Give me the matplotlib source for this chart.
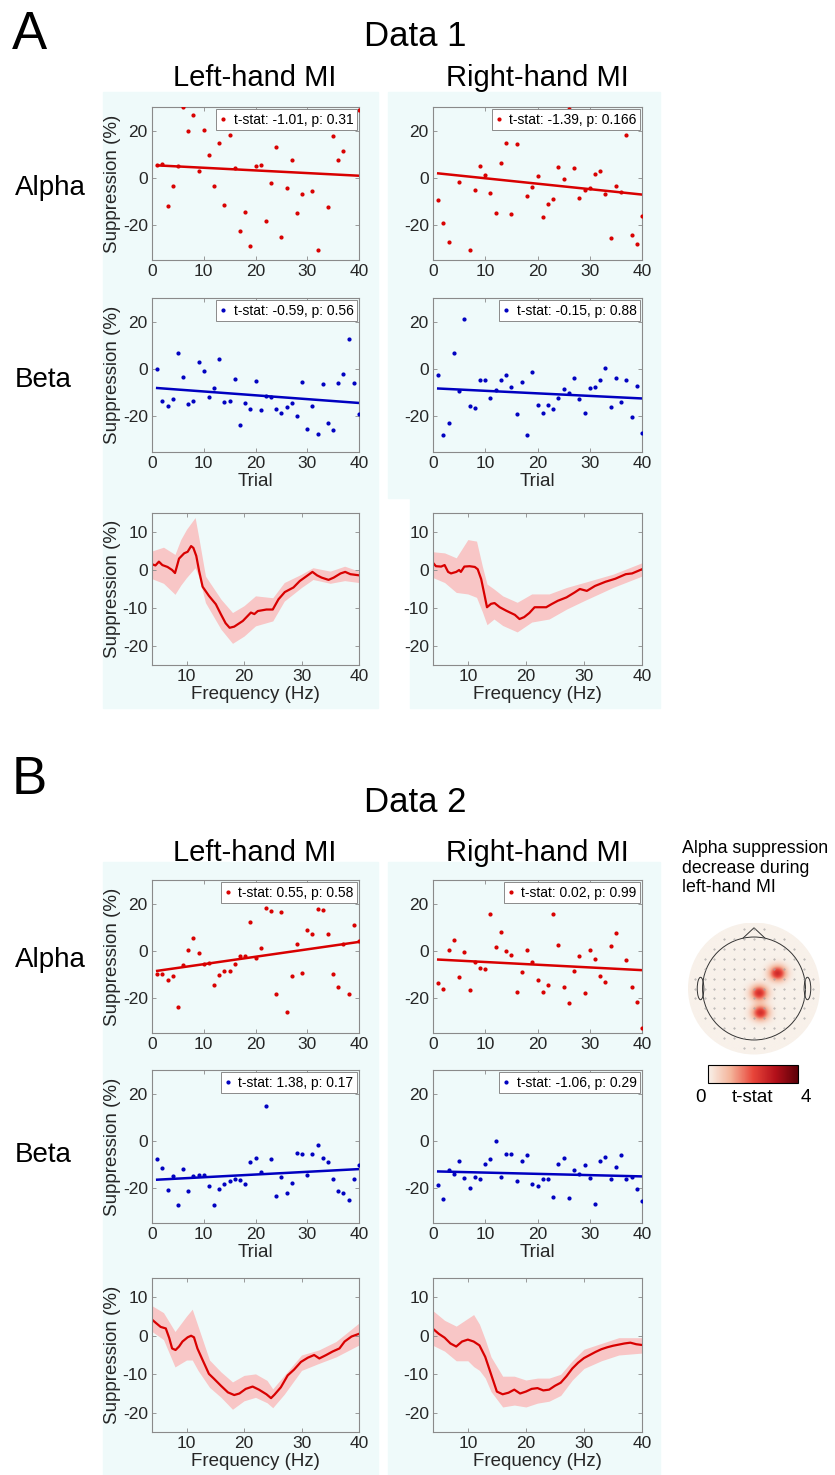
import numpy as np
import matplotlib
matplotlib.use('Agg')
import matplotlib.pyplot as plt
from matplotlib.patches import Rectangle, Circle, Ellipse, Polygon
from matplotlib.colors import LinearSegmentedColormap

plt.rcParams['font.family'] = ['Liberation Sans', 'DejaVu Sans']
plt.rcParams['axes.unicode_minus'] = False

# ---------------- data ----------------
trials = np.arange(1, 41)
nan = np.nan

# Data 1 - single trial suppression (%)
a_alpha_left = [5.2, 5.9, -12.1, -3.7, 4.9, 29.9, 19.7, 26.5, 2.8, 20.4,
                9.6, -3.7, 14.8, -11.8, 18.3, 4.2, -22.5, -14.8, -29.0, 4.8,
                5.2, -18.5, -2.4, 13.0, -25.2, -4.4, 7.6, -15.1, -6.8, nan,
                -5.6, -30.7, nan, -12.4, 17.5, 7.3, 11.1, nan, nan, 28.7]
a_alpha_right = [-9.3, -19.4, -27.5, nan, -1.7, nan, -30.8, -5.1, 4.8, 1.0,
                 -6.5, -15.2, 6.3, 14.8, -15.6, 14.1, nan, -8.0, -3.9, 0.6,
                 -16.6, -11.3, -9.0, 4.6, -0.6, 29.2, 3.9, -8.7, -5.1, -4.5,
                 1.7, 2.7, -6.9, -25.8, -3.4, -6.3, 17.9, -24.5, -28.3, -16.1]
a_beta_left = [-0.1, -13.6, -15.4, -12.7, 6.7, -3.5, -14.7, -13.6, 2.9, -0.8,
               -11.9, -8.0, 4.1, -14.0, -13.3, -4.3, -23.6, -14.5, -16.8, -5.2,
               -17.3, -11.2, -11.7, -16.8, -18.7, -15.9, -14.3, -19.7, -5.6, -25.3,
               -15.5, -27.4, -6.4, -22.8, -25.9, -6.0, -2.0, 12.9, -6.0, -18.9]
a_beta_right = [-2.7, -27.9, -22.7, 6.6, -9.4, 21.0, -15.4, -16.3, -4.5, -4.6,
                -12.0, -8.7, -4.6, -2.7, -7.5, -18.9, -5.5, -27.7, -1.1, -15.1,
                -18.7, -15.2, -16.8, -12.0, -8.5, -10.1, -3.9, -12.7, -18.5, -8.0,
                -7.6, -4.8, 0.4, -16.1, -3.8, -13.7, -4.5, -20.4, -7.3, -26.9]

# Data 2 - single trial suppression (%)
b_alpha_left = [-9.9, -9.9, -12.4, -10.6, -23.8, -5.9, 0.3, 5.2, -1.1, -5.6,
                -5.4, -14.8, -10.4, -8.7, -8.7, -5.5, -2.5, -2.5, 12.1, -3.1,
                1.1, 18.3, 16.8, -18.3, 16.3, -25.9, -10.7, 3.0, -9.7, 8.6,
                7.0, 17.7, 17.2, 7.0, -10.1, -15.6, 3.0, -18.6, 10.8, 4.1]
b_alpha_right = [-13.7, -16.1, 0.3, 4.6, -11.1, -0.6, -16.8, -4.9, -7.3, -7.7,
                 15.6, 1.4, 8.0, -0.3, -1.7, -17.6, -9.0, 0.3, -4.8, -12.3,
                 -17.5, -14.5, 15.5, 2.5, -15.4, -22.4, -8.5, -2.4, -18.2, 0.1,
                 -3.5, -10.6, -13.2, 2.1, 7.3, nan, -4.1, -15.4, -22.0, -32.8]
b_beta_left = [-7.9, -11.5, -20.8, -15.1, -27.3, -12.1, -21.3, -15.1, -14.8, -14.4,
               -19.4, -27.3, -20.4, -18.6, -17.2, -16.2, -16.8, -18.6, -9.0, -7.5,
               -13.2, 14.8, -8.0, -23.7, -15.5, -22.4, -18.0, -5.2, -5.5, -14.6,
               -5.5, -1.7, -7.5, -9.0, -16.1, -21.5, -22.3, -25.1, -16.1, -10.4]
b_beta_right = [-19.0, -24.6, -12.3, -14.1, -8.7, -15.8, -20.0, -15.5, -16.2, -10.0,
                -8.0, -0.1, -15.5, -5.6, -5.6, -17.3, -8.5, -6.3, -18.3, -19.4,
                -16.3, -16.3, -23.9, -9.9, -7.3, -24.4, -12.3, -14.1, -10.3, -15.8,
                -27.0, -8.5, -6.8, -16.2, -11.3, -6.3, -16.2, -15.4, -20.7, -25.6]

# regression line values at trial 1 and trial 40
fit_a_alpha_left = [5.2, 0.8]
fit_a_alpha_right = [1.8, -7.2]
fit_a_beta_left = [-8.0, -14.3]
fit_a_beta_right = [-8.2, -12.4]
fit_b_alpha_left = [-8.6, 3.7]
fit_b_alpha_right = [-3.8, -8.3]
fit_b_beta_left = [-16.6, -12.1]
fit_b_beta_right = [-13.1, -15.2]

stats_a = ['t-stat: -1.01, p: 0.31', 't-stat: -1.39, p: 0.166',
           't-stat: -0.59, p: 0.56', 't-stat: -0.15, p: 0.88']
stats_b = ['t-stat: 0.55, p: 0.58', 't-stat: 0.02, p: 0.99',
           't-stat: 1.38, p: 0.17', 't-stat: -1.06, p: 0.29']

# spectra: mean suppression (%) and shaded band
a_left_hz = [4, 4.6, 5.2, 5.8, 6.7, 7.5, 8.0, 8.3, 8.7, 9.6, 10.2, 10.8, 11.2, 11.7,
             12.2, 12.8, 13.9, 15.1, 16.0, 16.8, 17.5, 18.3, 19.8, 21.2, 21.8, 22.4,
             23.9, 25.0, 26.0, 27.1, 28.6, 29.7, 30.9, 31.9, 32.7, 33.5, 34.7, 35.6,
             36.8, 37.6, 38.5, 40]
a_left_mean = [1.5, 1.2, 2.2, 1.3, 0.8, 0.0, -0.8, 0.8, 3.0, 4.4, 4.8, 6.3, 5.8, 3.7,
               -0.3, -4.4, -6.8, -9.0, -11.7, -14.0, -15.2, -14.9, -13.4, -11.2, -11.6,
               -10.8, -10.4, -10.4, -7.7, -5.8, -4.6, -2.9, -1.6, -0.5, -1.4, -2.0,
               -2.6, -2.0, -0.9, -0.5, -1.1, -1.4]
a_left_band_hz = [4, 6, 8, 9, 10, 11.5, 12.2, 13.3, 16, 18, 20, 22, 25, 27, 30, 32, 35, 37.5, 40]
a_left_hi = [5.0, 6.0, 4.1, 8.0, 10.7, 13.8, 8.0, -1.6, -7.7, -11.2, -9.4, -6.8, -7.3,
             -3.3, -1.1, 0.6, -0.3, 1.0, -0.3]
a_left_lo = [-2.3, -3.5, -6.4, -4.0, -2.0, 0.6, -2.0, -8.6, -15.6, -19.3, -17.4, -14.7,
             -13.4, -8.2, -4.6, -2.5, -3.5, -2.8, -3.3]

a_right_hz = [4, 4.5, 5.4, 6.0, 6.6, 7.1, 8.0, 8.5, 8.8, 9.4, 10.3, 11.2, 11.7, 12.3,
              12.9, 13.3, 14.0, 14.6, 15.5, 16.6, 18.1, 18.9, 19.7, 20.6, 21.5, 22.6,
              23.5, 24.4, 25.5, 27.0, 28.4, 29.3, 30.5, 31.9, 33.7, 35.4, 37.2, 38.3, 40]
a_right_mean = [1.9, 1.0, 0.9, 1.3, -0.5, -0.9, -0.5, 0.0, -0.5, 0.9, 1.0, 0.8, 0.2,
                -2.4, -6.8, -9.8, -8.9, -8.7, -9.8, -10.7, -11.8, -12.9, -12.4, -11.3,
                -9.8, -9.8, -9.8, -9.0, -8.1, -7.2, -5.9, -5.0, -5.5, -4.2, -3.1, -2.3,
                -1.1, -0.9, 0.2]
a_right_band_hz = [4, 6, 8, 10, 11.5, 12.5, 13.3, 14.5, 16, 18.5, 21, 24, 27, 30, 35, 40]
a_right_hi = [4.8, 4.5, 3.2, 8.0, 7.6, 1.0, -3.7, -5.0, -6.8, -8.5, -6.3, -6.3, -4.6,
              -3.3, -1.1, 1.9]
a_right_lo = [-2.0, -3.3, -5.9, -6.3, -7.2, -11.0, -14.4, -12.9, -14.6, -16.3, -13.7,
              -12.9, -10.3, -8.1, -4.6, -1.6]

b_left_hz = [4, 4.7, 5.5, 6.4, 7.0, 7.5, 8.1, 8.7, 9.3, 10.2, 10.8, 11.3, 11.9, 12.8,
             13.9, 14.8, 16.0, 17.2, 18.3, 19.2, 20.3, 21.5, 22.6, 23.9, 24.7, 25.3,
             26.4, 27.6, 28.7, 29.9, 31.1, 32.2, 33.1, 34.3, 35.4, 36.6, 37.5, 38.7, 40]
b_left_mean = [4.2, 3.3, 2.3, 1.9, -0.6, -3.3, -3.7, -2.8, -1.5, -0.4, 0.0, -0.4, -3.3,
               -6.3, -9.9, -11.2, -13.0, -14.7, -15.4, -15.0, -13.8, -13.2, -14.0, -15.2,
               -16.2, -15.3, -13.4, -10.3, -8.8, -6.8, -5.7, -5.0, -5.9, -5.0, -4.1, -3.3,
               -1.5, -0.2, 0.5]
b_left_band_hz = [4, 6, 8, 10, 11, 12, 14, 16, 18, 20, 22, 24, 25, 27, 30, 33, 36, 40]
b_left_hi = [7.8, 6.0, 1.1, 5.1, 6.9, 2.5, -6.3, -9.4, -12.0, -10.3, -9.9, -11.6, -13.8,
             -10.3, -5.0, -3.7, -1.5, 3.3]
b_left_lo = [1.1, -1.0, -8.1, -6.3, -6.3, -9.0, -13.4, -16.0, -19.1, -16.9, -16.0, -17.4,
             -18.7, -15.2, -9.0, -7.2, -5.5, -2.4]

b_right_hz = [4, 5, 6, 7, 8, 9, 10, 11, 12, 13, 14, 15, 16, 17, 18, 19, 20, 21, 22,
              23, 24, 25, 26, 27, 28, 29, 30, 31, 32, 33, 34, 35, 36, 37, 38, 39, 40]
b_right_mean = [1.8, 0.5, -0.5, -2.0, -2.8, -1.5, -1.0, -1.5, -2.5, -5.5, -10.0, -14.5,
                -15.2, -14.8, -14.0, -15.0, -14.5, -13.8, -13.6, -14.2, -14.0, -13.0,
                -12.2, -10.5, -8.5, -7.0, -5.8, -5.0, -4.2, -3.5, -3.0, -2.6, -2.3, -2.0,
                -1.8, -2.2, -2.4]
b_right_band_hz = [4, 6, 8, 10, 11, 12, 13, 14, 16, 18, 20, 22, 24, 26, 28, 30, 33, 36, 40]
b_right_hi = [6.5, 4.0, 2.5, 4.5, 5.5, 3.0, -1.0, -5.5, -10.5, -10.5, -11.5, -11.0,
              -11.0, -10.0, -6.5, -3.5, -2.0, -0.5, -0.5]
b_right_lo = [-2.5, -4.0, -6.5, -6.5, -8.0, -9.0, -11.0, -14.5, -18.5, -18.0, -18.5,
              -17.5, -17.0, -15.5, -11.5, -8.5, -6.5, -5.0, -4.5]

# topography: positions (head radius units) and t-stat of significant clusters
blob_x = [0.36, 0.08, 0.10]
blob_y = [0.24, -0.06, -0.36]
blob_t = [2.5, 2.4, 2.4]

# ---------------- layout ----------------
W, H = 835, 1475
fig = plt.figure(figsize=(W / 100, H / 100), dpi=100)
BG = '#effafa'
TXT = '#262626'
RED = '#d80000'
BLUE = '#0000c0'


def rect(x0, y0, x1, y1):
    return [x0 / W, 1 - y1 / H, (x1 - x0) / W, (y1 - y0) / H]


def bg(x0, y0, x1, y1):
    fig.patches.append(Rectangle((x0 / W, 1 - y1 / H), (x1 - x0) / W, (y1 - y0) / H,
                                 transform=fig.transFigure, color=BG, zorder=-5))


def ftext(x, y, s, size, **kw):
    fig.text(x / W, 1 - y / H, s, fontsize=size, color='black', **kw)


def style(ax):
    ax.set_facecolor('none')
    for sp in ax.spines.values():
        sp.set_color('#8a8a8a')
        sp.set_linewidth(0.8)
    ax.tick_params(direction='in', length=3, width=0.6, color='#8a8a8a',
                   labelsize=12.5, labelcolor=TXT, pad=3, top=True, right=True)


def scatter_panel(pos, vals, fit, label, color, ylabel, xlabel):
    ax = fig.add_axes(rect(*pos))
    style(ax)
    ax.plot(trials, vals, '.', color=color, ms=4, label=label, zorder=3)
    ax.plot([1, 40], fit, '-', color=color, lw=1.8, zorder=2)
    ax.set_xlim(0, 40)
    ax.set_ylim(-35, 30)
    ax.set_xticks([0, 10, 20, 30, 40])
    ax.set_yticks([-20, 0, 20])
    if ylabel:
        ax.set_ylabel('Suppression (%)', fontsize=13.5, color=TXT, labelpad=1)
    if xlabel:
        ax.set_xlabel('Trial', fontsize=13.5, color=TXT, labelpad=1)
    leg = ax.legend(loc='upper right', fontsize=10, handlelength=0.5, handletextpad=0.5,
                    borderpad=0.25, borderaxespad=0.15, fancybox=False, framealpha=1,
                    edgecolor='#8a8a8a', markerscale=1.0)
    leg.get_frame().set_linewidth(0.7)
    return ax


def spectrum_panel(pos, hz, mean, band_hz, lo, hi, ylabel):
    ax = fig.add_axes(rect(*pos))
    style(ax)
    ax.fill_between(band_hz, lo, hi, color='#f8c6c6', lw=0, zorder=1)
    ax.plot(hz, mean, '-', color=RED, lw=1.6, zorder=2)
    ax.set_xlim(4, 40)
    ax.set_ylim(-25, 15)
    ax.set_xticks([10, 20, 30, 40])
    ax.set_yticks([-20, -10, 0, 10])
    if ylabel:
        ax.set_ylabel('Suppression (%)', fontsize=13.5, color=TXT, labelpad=1)
    ax.set_xlabel('Frequency (Hz)', fontsize=13.5, color=TXT, labelpad=1)
    return ax


# background panels
bg(103, 92, 378, 708)
bg(388, 92, 660, 498)
bg(410, 498, 660, 708)
bg(103, 862, 378, 1475)
bg(388, 862, 660, 1475)

LX = (152, 359)
RX = (433, 642)

# ---- A ----
ftext(12, 35, 'A', 38, va='center', ha='left')
ftext(415, 36, 'Data 1', 25, va='center', ha='center')
ftext(255, 78, 'Left-hand MI', 21, va='center', ha='center')
ftext(537, 78, 'Right-hand MI', 21, va='center', ha='center')
ftext(15, 188, 'Alpha', 20, va='center', ha='left')
ftext(15, 380, 'Beta', 20, va='center', ha='left')

scatter_panel((LX[0], 107, LX[1], 260), a_alpha_left, fit_a_alpha_left, stats_a[0], RED, True, False)
scatter_panel((RX[0], 107, RX[1], 260), a_alpha_right, fit_a_alpha_right, stats_a[1], RED, False, False)
scatter_panel((LX[0], 298, LX[1], 452), a_beta_left, fit_a_beta_left, stats_a[2], BLUE, True, True)
scatter_panel((RX[0], 298, RX[1], 452), a_beta_right, fit_a_beta_right, stats_a[3], BLUE, False, True)
spectrum_panel((LX[0], 513, LX[1], 665), a_left_hz, a_left_mean, a_left_band_hz, a_left_lo, a_left_hi, True)
spectrum_panel((RX[0], 513, RX[1], 665), a_right_hz, a_right_mean, a_right_band_hz, a_right_lo, a_right_hi, False)

# ---- B ----
ftext(12, 780, 'B', 38, va='center', ha='left')
ftext(415, 803, 'Data 2', 25, va='center', ha='center')
ftext(255, 853, 'Left-hand MI', 21, va='center', ha='center')
ftext(537, 853, 'Right-hand MI', 21, va='center', ha='center')
ftext(15, 960, 'Alpha', 20, va='center', ha='left')
ftext(15, 1155, 'Beta', 20, va='center', ha='left')

scatter_panel((LX[0], 880, LX[1], 1033), b_alpha_left, fit_b_alpha_left, stats_b[0], RED, True, False)
scatter_panel((RX[0], 880, RX[1], 1033), b_alpha_right, fit_b_alpha_right, stats_b[1], RED, False, False)
scatter_panel((LX[0], 1070, LX[1], 1223), b_beta_left, fit_b_beta_left, stats_b[2], BLUE, True, True)
scatter_panel((RX[0], 1070, RX[1], 1223), b_beta_right, fit_b_beta_right, stats_b[3], BLUE, False, True)
spectrum_panel((LX[0], 1278, LX[1], 1432), b_left_hz, b_left_mean, b_left_band_hz, b_left_lo, b_left_hi, True)
spectrum_panel((RX[0], 1278, RX[1], 1432), b_right_hz, b_right_mean, b_right_band_hz, b_right_lo, b_right_hi, False)

# ---- topography ----
ftext(682, 868, 'Alpha suppression\ndecrease during\nleft-hand MI', 12.8, va='center', ha='left',
      linespacing=1.2)

cmap = LinearSegmentedColormap.from_list('tmap', ['#f8f1ea', '#f4b49a', '#e8453a', '#b3101a', '#5c0008'])
tax = fig.add_axes(rect(688, 922, 820, 1055))
tax.set_xlim(-1, 1)
tax.set_ylim(-1, 1)
tax.set_aspect('equal')
tax.axis('off')
gx, gy = np.meshgrid(np.linspace(-1, 1, 241), np.linspace(-1, 1, 241))
field = np.zeros_like(gx)
for bx, by, bt in zip(blob_x, blob_y, blob_t):
    field += bt * np.exp(-((gx - bx) ** 2 / (2 * 0.09 ** 2) + (gy - by) ** 2 / (2 * 0.08 ** 2)))
im = tax.imshow(field, extent=(-1, 1, -1, 1), origin='lower', cmap=cmap, vmin=0, vmax=4,
                interpolation='bilinear')
im.set_clip_path(Circle((0, 0), 1.0, transform=tax.transData))
# electrode grid
ex, ey = np.meshgrid(np.arange(-0.9, 0.91, 0.15), np.arange(-0.9, 0.91, 0.15))
inside = ex ** 2 + ey ** 2 < 0.92 ** 2
tax.plot(ex[inside], ey[inside], '.', color='#a0a0a0', ms=0.8)
head_r = 0.78
tax.add_patch(Circle((0, 0), head_r, fill=False, ec='#333333', lw=0.7))
tax.add_patch(Polygon([(-0.17, head_r - 0.02), (0, 0.92), (0.17, head_r - 0.02)],
                      closed=False, fill=False, ec='#333333', lw=0.7))
tax.add_patch(Ellipse((-head_r - 0.03, 0.0), 0.1, 0.34, fill=False, ec='#333333', lw=0.7))
tax.add_patch(Ellipse((head_r + 0.03, 0.0), 0.1, 0.34, fill=False, ec='#333333', lw=0.7))

cax = fig.add_axes(rect(708, 1065, 798, 1083))
cb = fig.colorbar(im, cax=cax, orientation='horizontal')
cb.set_ticks([])
cb.outline.set_linewidth(0.8)
cb.outline.set_edgecolor('black')
ftext(701, 1097, '0', 13.5, va='center', ha='center')
ftext(752, 1097, 't-stat', 13.5, va='center', ha='center')
ftext(806, 1097, '4', 13.5, va='center', ha='center')

fig.savefig('out.png', dpi=100, facecolor='white')
